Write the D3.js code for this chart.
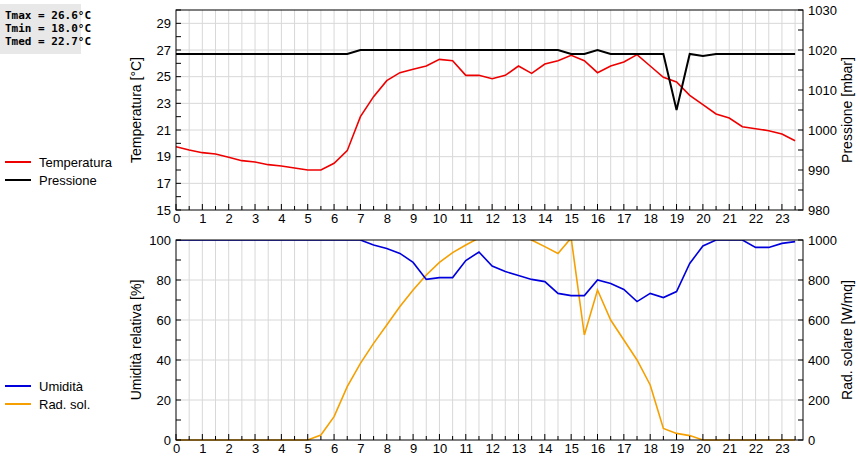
<!DOCTYPE html><html><head><meta charset="utf-8">
<script src="https://cdn.jsdelivr.net/npm/d3@7"></script>
<style>body{margin:0;background:#fff}text{font-family:"Liberation Sans",Arial,sans-serif}</style></head><body>
<svg id="c" width="860" height="460"></svg>
<script>
const hours = d3.range(0, 24, 0.5);
const temperatura = [19.75,19.5,19.3,19.2,18.95,18.7,18.6,18.4,18.3,18.15,18.0,18.0,18.5,19.45,22.0,23.5,24.7,25.3,25.55,25.8,26.3,26.2,25.1,25.1,24.85,25.1,25.8,25.25,25.95,26.2,26.6,26.2,25.3,25.8,26.1,26.65,25.8,24.95,24.6,23.6,22.9,22.2,21.9,21.25,21.1,20.95,20.7,20.2];
const pressione = [1019,1019,1019,1019,1019,1019,1019,1019,1019,1019,1019,1019,1019,1019,1020,1020,1020,1020,1020,1020,1020,1020,1020,1020,1020,1020,1020,1020,1020,1020,1019,1019,1020,1019,1019,1019,1019,1019,1005,1019,1018.5,1019,1019,1019,1019,1019,1019,1019];
const umidita = [100,100,100,100,100,100,100,100,100,100,100,100,100,100,100,97.5,95.7,93.3,88.8,80.3,81.2,81.2,89.7,94,87,84.2,82.2,80.3,79.2,73.3,72.2,72.2,80,78.3,75.3,69.2,73.3,71.2,74.2,88.3,97,100,100,100,96.3,96.3,98.3,99.2];
const radSolare = [0,0,0,0,0,0,0,0,0,0,0,25,117,267,383,483,575,667,750,825,888,937,975,1010,1060,1080,1080,1000,967,933,1010,525,750,600,500,400,275,58,33,22,0,0,0,0,0,0,0,0];
const xTicks = d3.range(0, 24);
const tempTicks = [15,17,19,21,23,25,27,29];
const pressTicks = [980,990,1000,1010,1020,1030];
const umTicks = [0,20,40,60,80,100];
const radTicks = [0,200,400,600,800,1000];
const infoLines = ["Tmax = 26.6°C","Tmin = 18.0°C","Tmed = 22.7°C"];

const svg = d3.select("#c");
const x = d3.scaleLinear().domain([0, 23.8]).range([176, 803]);
const panels = [
 {top:10,bot:210,lDom:[15,30],rDom:[980,1030],lT:tempTicks,rT:pressTicks,lMinor:d3.range(15,31,1),rMinor:d3.range(980,1031,5),grid:tempTicks,
  lLab:"Temperatura [°C]",rLab:"Pressione [mbar]",series:[{d:temperatura,c:"#ee0000",r:false},{d:pressione,c:"#000",r:true,w:2}],
  leg:[["Temperatura","#ee0000"],["Pressione","#000"]],legY:162},
 {top:240,bot:440,lDom:[0,100],rDom:[0,1000],lT:umTicks,rT:radTicks,lMinor:d3.range(0,101,10),rMinor:d3.range(0,1001,100),grid:umTicks,
  lLab:"Umidità relativa [%]",rLab:"Rad. solare [W/mq]",series:[{d:radSolare,c:"#f5a000",r:true},{d:umidita,c:"#0000dd",r:false}],
  leg:[["Umidità","#0000dd"],["Rad. sol.","#f5a000"]],legY:386}
];
panels.forEach((p,i)=>{
  const yl = d3.scaleLinear().domain(p.lDom).range([p.bot,p.top]);
  const yr = d3.scaleLinear().domain(p.rDom).range([p.bot,p.top]);
  const g = svg.append("g");
  g.selectAll(".vg").data(d3.range(0.5,23.8,0.5)).join("line").attr("x1",d=>x(d)).attr("x2",d=>x(d)).attr("y1",p.top).attr("y2",p.bot).attr("stroke","#d8d8d8");
  g.selectAll(".hg").data(p.grid.filter(v=>v>p.lDom[0]&&v<p.lDom[1])).join("line").attr("x1",x.range()[0]).attr("x2",x.range()[1]).attr("y1",d=>yl(d)).attr("y2",d=>yl(d)).attr("stroke","#d8d8d8");
  const cid="clip"+i;
  svg.append("clipPath").attr("id",cid).append("rect").attr("x",x.range()[0]).attr("y",p.top).attr("width",x.range()[1]-x.range()[0]).attr("height",p.bot-p.top+1);
  p.series.forEach(s=>{
    const ys = s.r?yr:yl;
    g.append("path").attr("clip-path",`url(#${cid})`).datum(s.d).attr("fill","none").attr("stroke",s.c).attr("stroke-width",s.w||1.6)
      .attr("d",d3.line().x((d,j)=>x(hours[j])).y(d=>ys(d)));
  });
  g.append("rect").attr("x",x.range()[0]).attr("y",p.top).attr("width",x.range()[1]-x.range()[0]).attr("height",p.bot-p.top).attr("fill","none").attr("stroke","#000");
  const ax = g.append("g").attr("transform",`translate(0,${p.bot})`).call(d3.axisBottom(x).tickValues(xTicks).tickSize(0).tickPadding(4).tickFormat(d3.format("d")));
  ax.select(".domain").remove(); ax.selectAll("text").attr("font-size",13).attr("fill","#000").attr("font-family","Liberation Sans, Arial");
  g.selectAll(".xt").data(d3.range(0,23.8,0.5)).join("line").attr("x1",d=>x(d)).attr("x2",d=>x(d)).attr("y1",p.bot).attr("y2",d=>p.bot-(d%1===0?6:4)).attr("stroke","#000");
  const al = g.append("g").attr("transform",`translate(${x.range()[0]},0)`).call(d3.axisLeft(yl).tickValues(p.lT).tickSize(0).tickPadding(5).tickFormat(d3.format("d")));
  al.select(".domain").remove(); al.selectAll("text").attr("font-size",13).attr("fill","#000").attr("font-family","Liberation Sans, Arial");
  g.selectAll(".lm").data(p.lMinor).join("line").attr("x1",x.range()[0]).attr("x2",x.range()[0]+5).attr("y1",d=>yl(d)).attr("y2",d=>yl(d)).attr("stroke","#000");
  const ar = g.append("g").attr("transform",`translate(${x.range()[1]},0)`).call(d3.axisRight(yr).tickValues(p.rT).tickSize(0).tickPadding(5).tickFormat(d3.format("d")));
  ar.select(".domain").remove(); ar.selectAll("text").attr("font-size",13).attr("fill","#000").attr("font-family","Liberation Sans, Arial");
  g.selectAll(".rm").data(p.rMinor).join("line").attr("x1",x.range()[1]).attr("x2",x.range()[1]-5).attr("y1",d=>yr(d)).attr("y2",d=>yr(d)).attr("stroke","#000");
  const mid=(p.top+p.bot)/2;
  g.append("text").attr("transform",`translate(141,${mid}) rotate(-90)`).attr("text-anchor","middle").attr("font-size",14).text(p.lLab);
  g.append("text").attr("transform",`translate(852,${mid}) rotate(-90)`).attr("text-anchor","middle").attr("font-size",14).text(p.rLab);
  p.leg.forEach((l,k)=>{
    const yy=p.legY+k*18;
    g.append("line").attr("x1",5).attr("x2",31).attr("y1",yy).attr("y2",yy).attr("stroke",l[1]).attr("stroke-width",2);
    g.append("text").attr("x",39).attr("y",yy+4.5).attr("font-size",13).text(l[0]);
  });
});
svg.append("rect").attr("x",0).attr("y",4).attr("width",81).attr("height",50).attr("fill","#e8e8e8");
infoLines.forEach((t,k)=>svg.append("text").attr("x",5).attr("y",19+k*13).attr("font-weight","bold").attr("font-size",11).style("font-family","'DejaVu Sans Mono',monospace").text(t));
</script></body></html>
